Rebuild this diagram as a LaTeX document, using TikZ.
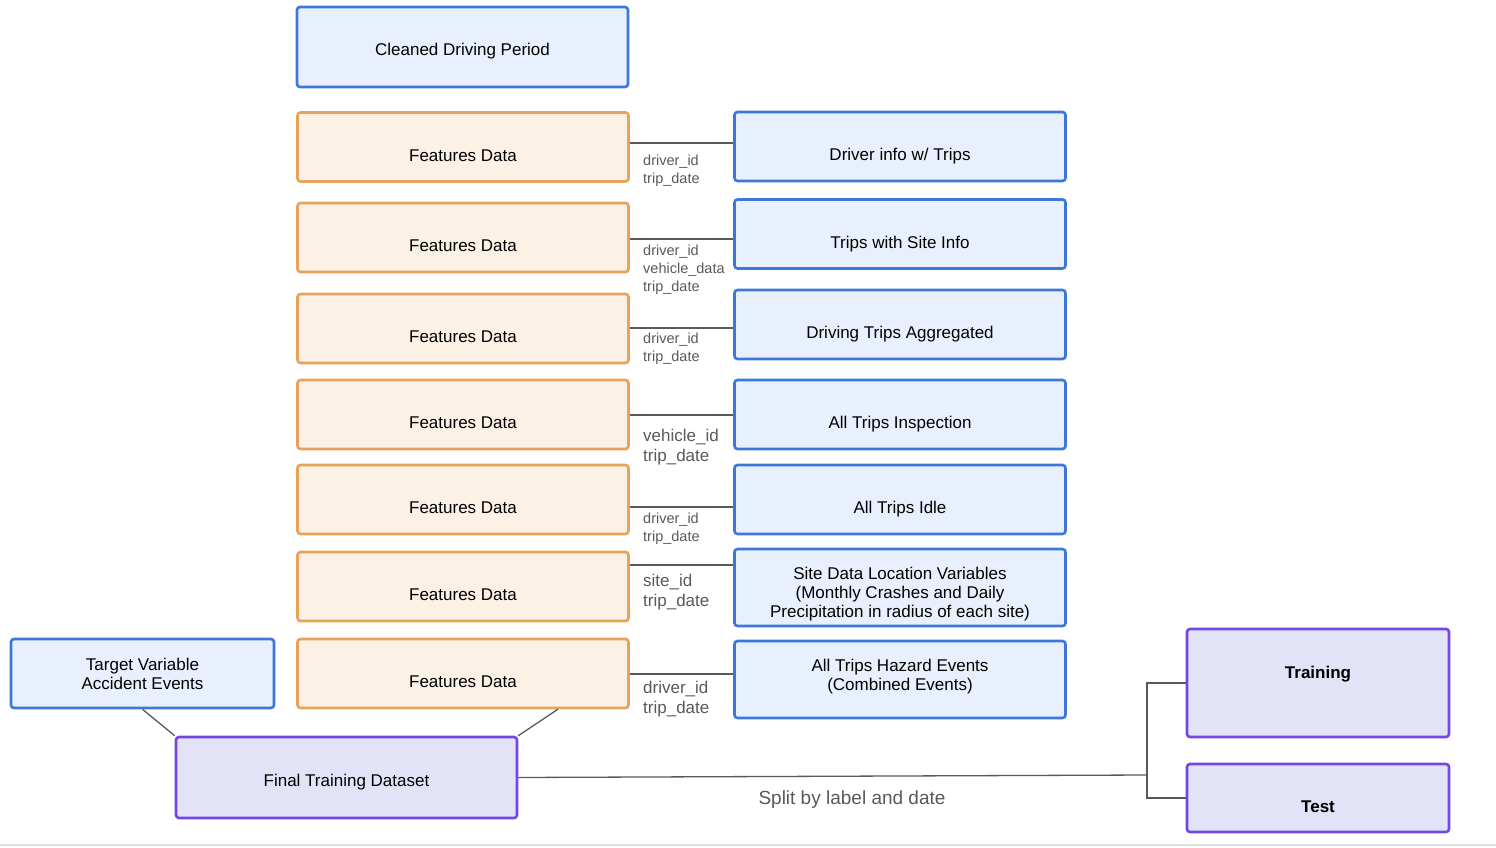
\documentclass[tikz,border=0pt]{standalone}
\usepackage{fontspec}
\setmainfont{Liberation Sans}
\definecolor{lineblue}{HTML}{3C78D8}
\definecolor{fillblue}{HTML}{E8F0FD}
\definecolor{lineorange}{HTML}{E9A25A}
\definecolor{fillorange}{HTML}{FBF1E5}
\definecolor{linepurple}{HTML}{7446E6}
\definecolor{fillpurple}{HTML}{E3E3F8}
\definecolor{linkgray}{HTML}{595959}
\tikzset{
    box/.style={rounded corners=3pt, line width=2.6pt, align=center, inner sep=2pt, font=\fontsize{17}{19}\selectfont},
    srcbox/.style={box, draw=lineblue, fill=fillblue, minimum width=331, minimum height=69},
    featbox/.style={box, draw=lineorange, fill=fillorange, minimum width=331, minimum height=69, low},
    setbox/.style={box, draw=linepurple, fill=fillpurple},
    low/.style={text height=32pt, text depth=4pt},
    tall/.style={minimum height=77},
    threeline/.style={tall, text height=64.3pt, text depth=3.8pt},
    twoline/.style={tall, text height=31.3pt, text depth=10pt},
    link/.style={draw=linkgray, line width=1.3pt},
    keysmall/.style={text=linkgray, align=left, inner sep=0pt, font=\fontsize{14.5}{18}\selectfont},
    keylarge/.style={text=linkgray, align=left, inner sep=0pt, font=\fontsize{17}{20}\selectfont}
}
\begin{document}
\begin{tikzpicture}[x=1pt,y=-1pt]
\useasboundingbox (0,0) rectangle (1496,848);
\node[srcbox, minimum height=80, text height=20pt, text depth=3.3pt] (clean) at (462.5,47) {Cleaned Driving Period};
% feature tables joined to their sources
\foreach \i/\fy/\sy/\ly/\sst/\txt/\ky/\kst/\keys in {1/147/146.5/143/low/{Driver info w/ Trips}/155/keysmall/{driver\_id\\trip\_date}, 2/237.5/234/239/low/{Trips with Site Info}/245/keysmall/{driver\_id\\vehicle\_data\\trip\_date}, 3/328.5/324.5/328/low/{Driving Trips Aggregated}/333/keysmall/{driver\_id\\trip\_date}, 4/414.5/414.5/415/low/{All Trips Inspection}/428.5/keylarge/{vehicle\_id\\trip\_date}, 5/499.5/499.5/507/low/{All Trips Idle}/513/keysmall/{driver\_id\\trip\_date}, 6/586.5/587.5/565/threeline/{Site Data Location Variables\\(Monthly Crashes and Daily\\Precipitation in radius of each site)}/573.5/keylarge/{site\_id\\trip\_date}, 7/673.5/679.5/674/twoline/{All Trips Hazard Events\\(Combined Events)}/680.5/keylarge/{driver\_id\\trip\_date}}{
    \node[featbox] (feat\i) at (463,\fy) {Features Data};
    \node[srcbox, \sst] (src\i) at (900,\sy) {\txt};
    \coordinate (j\i) at (0,\ly);
    \draw[link] (feat\i.east |- j\i) -- (src\i.west |- j\i);
    \node[\kst, anchor=north west] (key\i) at (643,\ky) {\keys};
}
\node[srcbox, minimum width=263] (target) at (142.5,673.5) {Target Variable\\Accident Events};
\node[setbox, minimum width=341, minimum height=81, text height=22pt, text depth=3.3pt] (final) at (346.5,777.5) {Final Training Dataset};
\node[setbox, minimum width=262, minimum height=108, text height=13pt, text depth=23pt, font=\fontsize{17}{19}\selectfont\bfseries] (train) at (1318,683) {Training};
\node[setbox, minimum width=262, minimum height=68, low, font=\fontsize{17}{19}\selectfont\bfseries] (test) at (1318,798) {Test};
\draw[link] (target.south) -- (final.north west);
\draw[link] ([xshift=-72pt]feat7.south east) -- (final.north east);
\coordinate (split) at (1147,775);
\draw[link] (final.east) -- (split);
\draw[link] (train.west) -| (split) |- (test.west);
\node[text=linkgray, font=\fontsize{19}{22}\selectfont] (splitlabel) at (852,800) {Split by label and date};
\draw[gray!25, line width=1.2pt] (0,845) -- (1496,845);
\end{tikzpicture}
\end{document}
